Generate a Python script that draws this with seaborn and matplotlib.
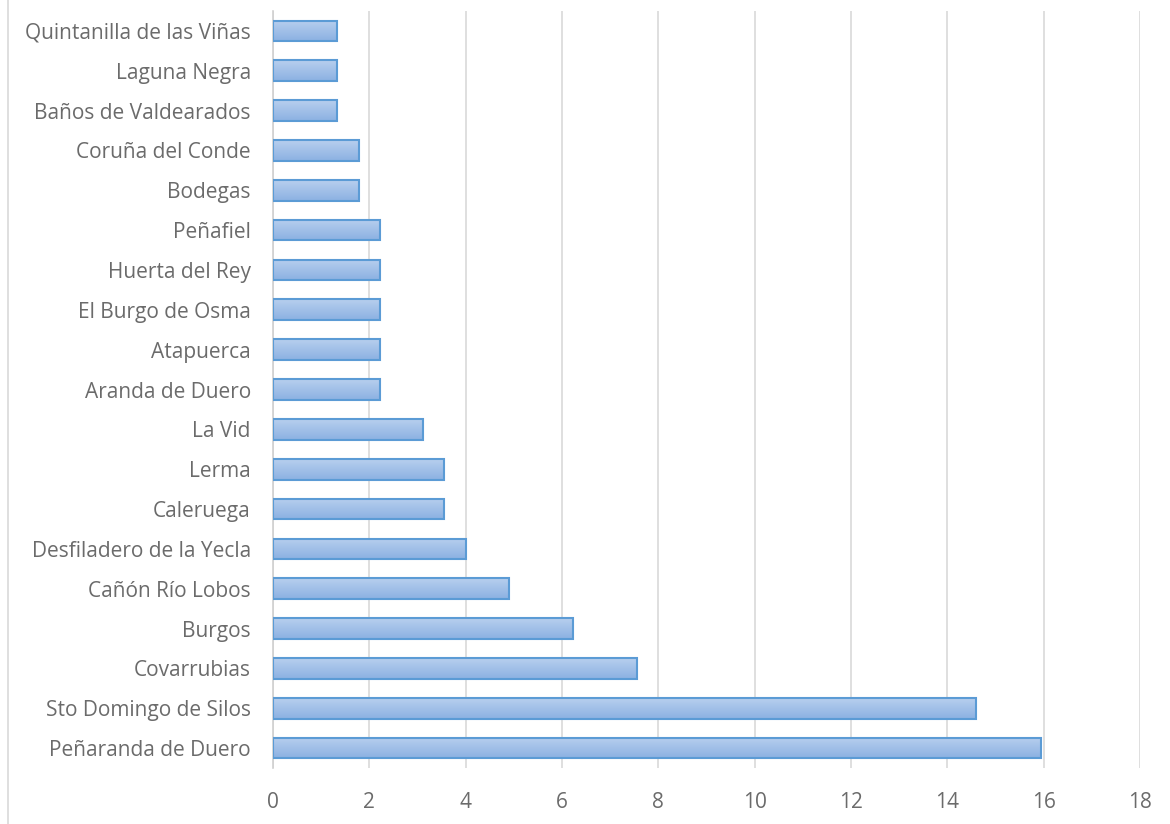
import matplotlib
matplotlib.use("Agg")
import matplotlib.pyplot as plt
from matplotlib.lines import Line2D
from matplotlib.colors import LinearSegmentedColormap
import seaborn as sns
import numpy as np
import pandas as pd

places = [
    "Quintanilla de las Viñas", "Laguna Negra", "Baños de Valdearados",
    "Coruña del Conde", "Bodegas", "Peñafiel", "Huerta del Rey",
    "El Burgo de Osma", "Atapuerca", "Aranda de Duero", "La Vid", "Lerma",
    "Caleruega", "Desfiladero de la Yecla", "Cañón Río Lobos", "Burgos",
    "Covarrubias", "Sto Domingo de Silos", "Peñaranda de Duero",
]
values = [1.33, 1.33, 1.33, 1.78, 1.78, 2.22, 2.22, 2.22, 2.22, 2.22,
          3.11, 3.56, 3.56, 4.0, 4.89, 6.22, 7.56, 14.6, 15.95]
xticks = [0, 2, 4, 6, 8, 10, 12, 14, 16, 18]

sns.set_theme(style="white")
plt.rcParams['font.family'] = ['Open Sans', 'DejaVu Sans']

W, H = 1170, 824
fig = plt.figure(figsize=(W / 100, H / 100), dpi=100)
ax = fig.add_axes([273 / W, 1 - 768 / H, 867 / W, 757 / H])

df = pd.DataFrame({"place": places, "value": values})
sns.barplot(data=df, x="value", y="place", orient="h", ax=ax,
            color="#a4c2e8", edgecolor="#5b9bd5", linewidth=1.5,
            width=0.52, zorder=3, saturation=1)

cmap = LinearSegmentedColormap.from_list("g", ["#b7cfee", "#8cb1e2"])
grad = np.linspace(0, 1, 64).reshape(-1, 1)
for p in list(ax.patches):
    x0, y0 = p.get_x(), p.get_y()
    w, h = p.get_width(), p.get_height()
    im = ax.imshow(grad, extent=[x0, x0 + w, y0 + h, y0], aspect="auto",
                   cmap=cmap, origin="upper", zorder=3.5, interpolation="bilinear")
    im.set_clip_path(p)
    p.set_facecolor("none")
    p.set_zorder(4)

ax.set_xlim(0, 18)
ax.set_ylim(len(places) - 0.5, -0.5)
ax.set_xticks(xticks)
ax.set_xticklabels([str(t) for t in xticks])
ax.set_xlabel("")
ax.set_ylabel("")
ax.grid(axis="x", color="#d9d9d9", linewidth=1.2, zorder=0)
ax.grid(axis="y", visible=False)
ax.set_axisbelow(True)
for s in ["top", "right", "bottom"]:
    ax.spines[s].set_visible(False)
ax.spines["left"].set_color("#d0d0d0")
ax.spines["left"].set_linewidth(1.2)
ax.tick_params(axis="both", length=0, labelsize=15, labelcolor="#6b6b6b")
ax.tick_params(axis="y", pad=16)
ax.tick_params(axis="x", pad=17)

fig.add_artist(Line2D([7.5 / W, 7.5 / W], [0, 1], color="#d9d9d9",
                      linewidth=1.2, transform=fig.transFigure))

fig.savefig("out.png", dpi=100)
